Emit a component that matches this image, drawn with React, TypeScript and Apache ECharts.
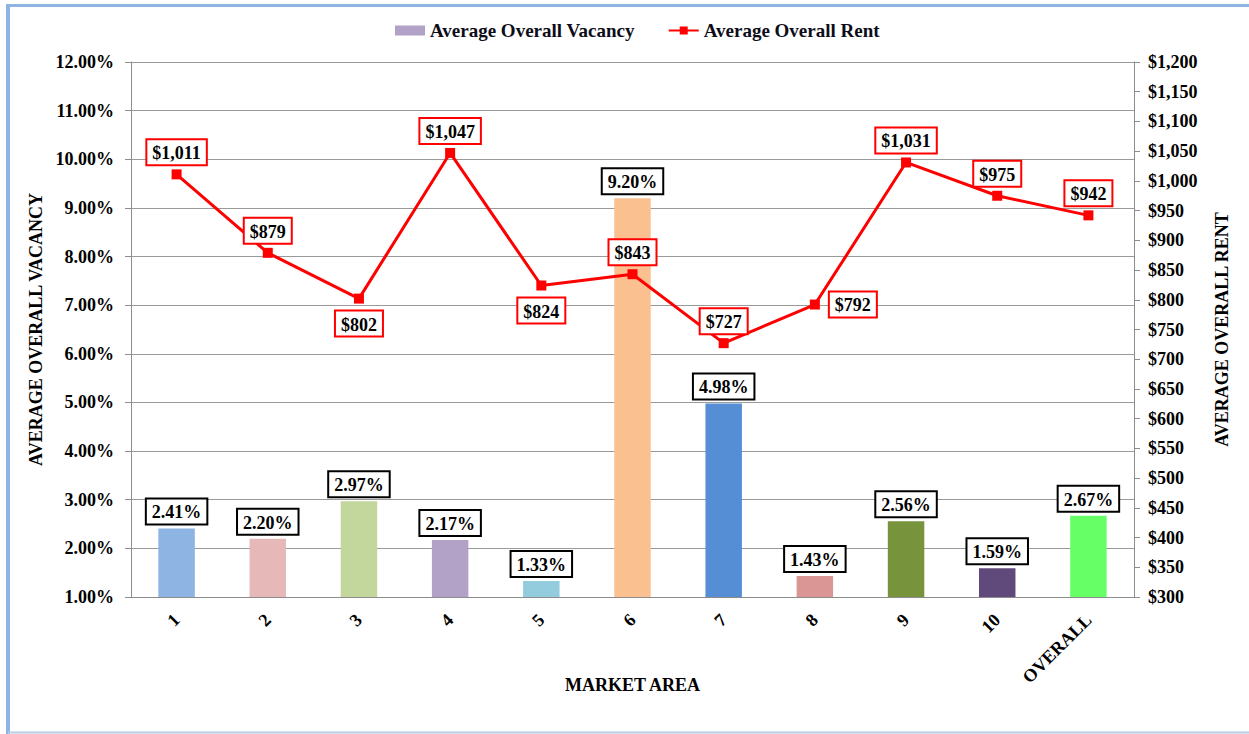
import React, { useEffect, useRef } from "react";
import * as echarts from "echarts";

const categories = ["1", "2", "3", "4", "5", "6", "7", "8", "9", "10", "OVERALL"];
const vacancy = [2.41, 2.2, 2.97, 2.17, 1.33, 9.2, 4.98, 1.43, 2.56, 1.59, 2.67];
const rent = [1011, 879, 802, 1047, 824, 843, 727, 792, 1031, 975, 942];
const barColors = ["#8EB4E3", "#E6B9B8", "#C3D69B", "#B3A2C7", "#93CDDD", "#FAC090", "#558ED5", "#D99694", "#77933C", "#604A7B", "#66FF66"];
const rentLabelPos = ["top", "top", "bottom", "top", "bottom", "top", "top", "right", "top", "top", "top"];

const FONT = "'Liberation Serif', 'Times New Roman', serif";

export default function App() {
  const ref = useRef<HTMLDivElement>(null);
  useEffect(() => {
    if (!ref.current) return;
    const chart = echarts.init(ref.current, undefined, { renderer: "svg" });
    const fmtMoney = (v: number) => "$" + v.toLocaleString("en-US");
    const txt = { fontFamily: FONT, fontWeight: "bold" as const, color: "#000", fontSize: 18 };
    const distFor = (p: string) => (p === "right" ? 10 : p === "bottom" ? 8 : 5);
    chart.setOption({
      animation: false,
      backgroundColor: "#fff",
      legend: {
        top: 16,
        left: 390,
        itemGap: 33,
        textStyle: { ...txt, fontSize: 19, color: "#0d0d1a" },
        data: [
          { name: "Average Overall Vacancy", icon: "rect", itemStyle: { color: "#B3A2C7" } },
          { name: "Average Overall Rent" },
        ],
        itemWidth: 30,
        itemHeight: 10,
      },
      graphic: [
        { type: "line", shape: { x1: 8, y1: 5.5, x2: 1249, y2: 5.5 }, style: { stroke: "#8DB4E2", lineWidth: 3 } },
        { type: "line", shape: { x1: 8, y1: 4, x2: 8, y2: 734 }, style: { stroke: "#8DB4E2", lineWidth: 4 } },
        { type: "line", shape: { x1: 8, y1: 732.5, x2: 1249, y2: 732.5 }, style: { stroke: "#B8CCE4", lineWidth: 2 } },
      ],
      grid: { left: 131, right: 115, top: 62, bottom: 137 },
      xAxis: {
        type: "category",
        data: categories,
        name: "MARKET AREA",
        nameLocation: "middle",
        nameGap: 79,
        nameMoveOverlap: false,
        nameTextStyle: { ...txt },
        axisLine: { lineStyle: { color: "#8c8c8c" } },
        axisTick: { alignWithLabel: false, length: 6, lineStyle: { color: "#8c8c8c" } },
        axisLabel: { ...txt, rotate: 45, margin: 20 },
      },
      yAxis: [
        {
          type: "value",
          min: 1,
          max: 12,
          interval: 1,
          name: "AVERAGE OVERALL VACANCY",
          nameLocation: "middle",
          nameRotate: 90,
          nameGap: 84,
          nameTextStyle: { ...txt },
          axisLine: { show: true, lineStyle: { color: "#8c8c8c" } },
          axisTick: { show: true, length: 6, lineStyle: { color: "#8c8c8c" } },
          axisLabel: { ...txt, formatter: (v: number) => v.toFixed(2) + "%", margin: 17 },
          splitLine: { lineStyle: { color: "#9a9a9a" } },
        },
        {
          type: "value",
          min: 300,
          max: 1200,
          interval: 50,
          name: "AVERAGE OVERALL RENT",
          nameLocation: "middle",
          nameRotate: 90,
          nameGap: 79,
          nameTextStyle: { ...txt },
          axisLine: { show: true, lineStyle: { color: "#8c8c8c" } },
          axisTick: { show: true, length: 6, lineStyle: { color: "#8c8c8c" } },
          axisLabel: { ...txt, formatter: fmtMoney, margin: 14 },
          splitLine: { show: false },
        },
      ],
      series: [
        {
          name: "Average Overall Vacancy",
          type: "bar",
          barWidth: "40%",
          itemStyle: { color: "#B3A2C7" },
          data: vacancy.map((v, i) => ({ value: v, itemStyle: { color: barColors[i] } })),
          label: {
            show: true,
            position: "top",
            distance: 5,
            ...txt,
            formatter: (p: any) => p.value.toFixed(2) + "%",
            backgroundColor: "#fff",
            borderColor: "#000",
            borderWidth: 2,
            padding: [4, 5, 2, 5],
          },
        },
        {
          name: "Average Overall Rent",
          type: "line",
          yAxisIndex: 1,
          symbol: "rect",
          symbolSize: 10,
          itemStyle: { color: "#FF0000" },
          lineStyle: { color: "#FF0000", width: 3 },
          data: rent.map((v, i) => ({
            value: v,
            label: { position: rentLabelPos[i] as any, distance: distFor(rentLabelPos[i]) },
          })),
          label: {
            show: true,
            ...txt,
            formatter: (p: any) => fmtMoney(p.value),
            backgroundColor: "#fff",
            borderColor: "#FF0000",
            borderWidth: 2,
            padding: [4, 5, 2, 5],
          },
          z: 5,
        },
      ],
    });
    return () => chart.dispose();
  }, []);
  return <div ref={ref} style={{ position: "fixed", left: 0, top: 0, width: 1249, height: 734 }} />;
}
